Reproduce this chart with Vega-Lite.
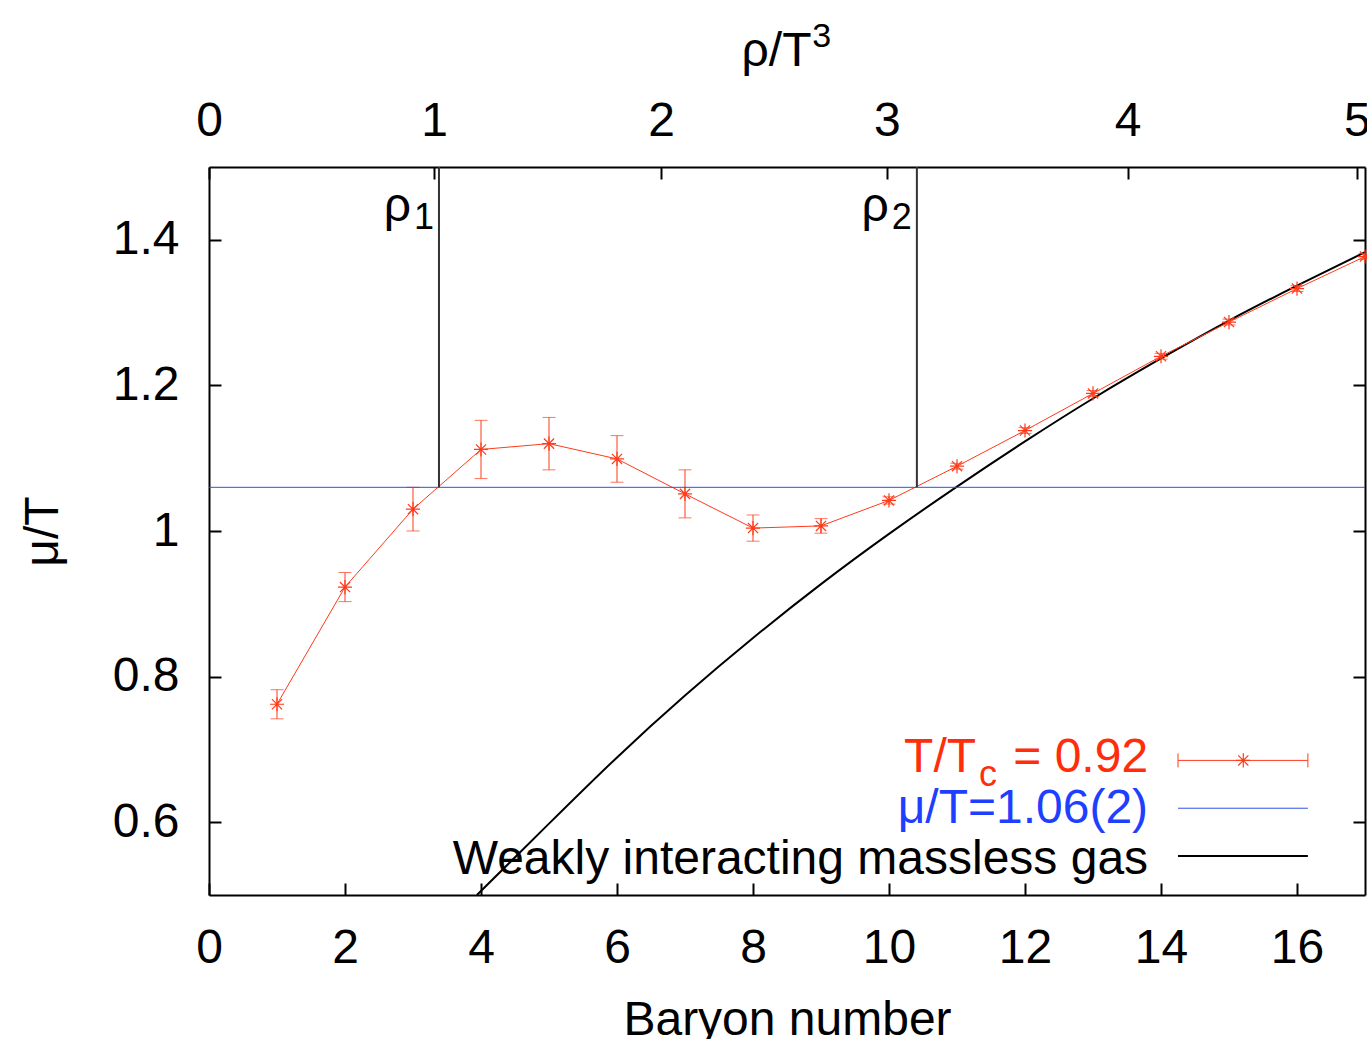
{
  "$schema": "https://vega.github.io/schema/vega-lite/v6.json",
  "width": 1156,
  "height": 728,
  "autosize": {"type": "none"},
  "padding": {"left": 209, "top": 167, "right": 2, "bottom": 144},
  "background": "white",
  "config": {
    "font": "Liberation Sans",
    "view": {"stroke": null},
    "axis": {
      "labelFont": "Liberation Sans",
      "titleFont": "Liberation Sans",
      "labelFontSize": 48,
      "titleFontSize": 48,
      "titleFontWeight": "normal",
      "labelColor": "black",
      "titleColor": "black",
      "domainColor": "black",
      "domainWidth": 2,
      "tickColor": "black",
      "tickWidth": 2,
      "tickSize": -12,
      "grid": false,
      "labelFlush": false,
      "labelOverlap": false,
      "labelBound": false
    }
  },
  "datasets": {
    "lattice": [
      {"N": 1, "mu": 0.762, "err": 0.020},
      {"N": 2, "mu": 0.923, "err": 0.020},
      {"N": 3, "mu": 1.030, "err": 0.030},
      {"N": 4, "mu": 1.112, "err": 0.040},
      {"N": 5, "mu": 1.120, "err": 0.036},
      {"N": 6, "mu": 1.099, "err": 0.032},
      {"N": 7, "mu": 1.051, "err": 0.033},
      {"N": 8, "mu": 1.004, "err": 0.018},
      {"N": 9, "mu": 1.007, "err": 0.010},
      {"N": 10, "mu": 1.042, "err": 0.005},
      {"N": 11, "mu": 1.089, "err": 0.004},
      {"N": 12, "mu": 1.138, "err": 0.004},
      {"N": 13, "mu": 1.189, "err": 0.004},
      {"N": 14, "mu": 1.240, "err": 0.004},
      {"N": 15, "mu": 1.287, "err": 0.004},
      {"N": 16, "mu": 1.333, "err": 0.004},
      {"N": 17, "mu": 1.377, "err": 0.004}
    ],
    "gas": [
      {"N": 3.94, "mu": 0.500},
      {"N": 5, "mu": 0.598},
      {"N": 6, "mu": 0.689},
      {"N": 7, "mu": 0.774},
      {"N": 8, "mu": 0.853},
      {"N": 9, "mu": 0.927},
      {"N": 10, "mu": 0.996},
      {"N": 11, "mu": 1.061},
      {"N": 12, "mu": 1.123},
      {"N": 13, "mu": 1.182},
      {"N": 14, "mu": 1.237},
      {"N": 15, "mu": 1.289},
      {"N": 16, "mu": 1.337},
      {"N": 17, "mu": 1.383}
    ],
    "rho": [
      {"N": 3.382, "sub": "1"},
      {"N": 10.41, "sub": "2"}
    ],
    "one": [{}]
  },
  "layer": [
    {
      "data": {"name": "gas"},
      "mark": {"type": "line", "color": "black", "strokeWidth": 2, "interpolate": "natural"},
      "encoding": {
        "x": {"field": "N", "type": "quantitative", "scale": {"domain": [0, 17], "nice": false, "zero": false},
              "axis": {"orient": "bottom", "values": [0, 2, 4, 6, 8, 10, 12, 14, 16], "title": "Baryon number", "labelPadding": 41, "titlePadding": 24}},
        "y": {"field": "mu", "type": "quantitative", "scale": {"domain": [0.5, 1.5], "nice": false, "zero": false},
              "axis": {"orient": "left", "values": [0.6, 0.8, 1, 1.2, 1.4], "labelExpr": "'' + datum.value", "title": "μ/T", "labelPadding": 42, "titlePadding": 45}}
      }
    },
    {
      "data": {"name": "lattice"},
      "mark": {"type": "line", "color": "#ff3a1a", "strokeWidth": 1},
      "encoding": {
        "x": {"field": "N", "type": "quantitative", "scale": {"domain": [0, 17], "nice": false, "zero": false},
              "axis": {"orient": "top", "values": [0, 3.31, 6.65, 9.97, 13.51, 16.88],
                       "labelExpr": "datum.value < 1 ? '0' : datum.value < 5 ? '1' : datum.value < 8 ? '2' : datum.value < 11 ? '3' : datum.value < 15 ? '4' : '5'",
                       "title": "ρ/T", "titleX": 567, "labelPadding": 34, "titlePadding": 22}},
        "y": {"field": "mu", "type": "quantitative", "scale": {"domain": [0.5, 1.5], "nice": false, "zero": false},
              "axis": {"orient": "right", "values": [0.6, 0.8, 1, 1.2, 1.4], "labels": false, "title": null}}
      }
    },
    {
      "data": {"name": "one"},
      "mark": {"type": "text", "text": "3", "fontSize": 34, "align": "left", "baseline": "alphabetic", "color": "black"},
      "encoding": {
        "x": {"datum": 8.87, "type": "quantitative", "scale": {"domain": [0, 17]}, "axis": null},
        "y": {"datum": 1.665, "type": "quantitative", "scale": {"domain": [0.5, 1.5]}, "axis": null}
      }
    },
    {
      "data": {"name": "lattice"},
      "mark": {"type": "errorbar", "color": "#ff3a1a", "rule": {"strokeWidth": 1}, "ticks": {"size": 13, "thickness": 1, "color": "#ff3a1a"}},
      "encoding": {
        "x": {"field": "N", "type": "quantitative", "scale": {"domain": [0, 17]}, "axis": null},
        "y": {"field": "mu", "type": "quantitative", "scale": {"domain": [0.5, 1.5]}, "axis": null},
        "yError": {"field": "err"}
      }
    },
    {
      "data": {"name": "lattice"},
      "mark": {"type": "point", "shape": "M-1,0L1,0M0,-1L0,1M-0.72,-0.72L0.72,0.72M-0.72,0.72L0.72,-0.72", "size": 200, "filled": false, "stroke": "#ff3a1a", "strokeWidth": 1.2, "opacity": 1},
      "encoding": {
        "x": {"field": "N", "type": "quantitative", "scale": {"domain": [0, 17]}, "axis": null},
        "y": {"field": "mu", "type": "quantitative", "scale": {"domain": [0.5, 1.5]}, "axis": null}
      }
    },
    {
      "data": {"name": "one"},
      "mark": {"type": "rule", "color": "#3050e6", "strokeWidth": 1},
      "encoding": {
        "y": {"datum": 1.06, "type": "quantitative", "scale": {"domain": [0.5, 1.5]}, "axis": null}
      }
    },
    {
      "data": {"name": "rho"},
      "mark": {"type": "rule", "color": "#333333", "strokeWidth": 2},
      "encoding": {
        "x": {"field": "N", "type": "quantitative", "scale": {"domain": [0, 17]}, "axis": null},
        "y": {"datum": 1.06, "type": "quantitative", "scale": {"domain": [0.5, 1.5]}, "axis": null},
        "y2": {"datum": 1.5}
      }
    },
    {
      "data": {"name": "rho"},
      "mark": {"type": "text", "text": "ρ", "fontSize": 48, "align": "right", "baseline": "alphabetic", "dx": -28, "color": "black"},
      "encoding": {
        "x": {"field": "N", "type": "quantitative", "scale": {"domain": [0, 17]}, "axis": null},
        "y": {"datum": 1.426, "type": "quantitative", "scale": {"domain": [0.5, 1.5]}, "axis": null}
      }
    },
    {
      "data": {"name": "rho"},
      "mark": {"type": "text", "fontSize": 36, "align": "right", "baseline": "alphabetic", "dx": -5, "color": "black"},
      "encoding": {
        "x": {"field": "N", "type": "quantitative", "scale": {"domain": [0, 17]}, "axis": null},
        "y": {"datum": 1.415, "type": "quantitative", "scale": {"domain": [0.5, 1.5]}, "axis": null},
        "text": {"field": "sub"}
      }
    },
    {
      "data": {"name": "one"},
      "mark": {"type": "text", "text": "T/T", "fontSize": 48, "align": "right", "baseline": "alphabetic", "dx": -172, "color": "#ff2d0a"},
      "encoding": {
        "x": {"datum": 13.81, "type": "quantitative", "scale": {"domain": [0, 17]}, "axis": null},
        "y": {"datum": 0.6685, "type": "quantitative", "scale": {"domain": [0.5, 1.5]}, "axis": null}
      }
    },
    {
      "data": {"name": "one"},
      "mark": {"type": "text", "text": "c", "fontSize": 36, "align": "right", "baseline": "alphabetic", "dx": -151, "dy": 14, "color": "#ff2d0a"},
      "encoding": {
        "x": {"datum": 13.81, "type": "quantitative", "scale": {"domain": [0, 17]}, "axis": null},
        "y": {"datum": 0.6685, "type": "quantitative", "scale": {"domain": [0.5, 1.5]}, "axis": null}
      }
    },
    {
      "data": {"name": "one"},
      "mark": {"type": "text", "text": "= 0.92", "fontSize": 48, "align": "right", "baseline": "alphabetic", "color": "#ff2d0a"},
      "encoding": {
        "x": {"datum": 13.81, "type": "quantitative", "scale": {"domain": [0, 17]}, "axis": null},
        "y": {"datum": 0.6685, "type": "quantitative", "scale": {"domain": [0.5, 1.5]}, "axis": null}
      }
    },
    {
      "data": {"name": "one"},
      "mark": {"type": "text", "text": "μ/T=1.06(2)", "fontSize": 48, "align": "right", "baseline": "alphabetic", "color": "#1f3fff"},
      "encoding": {
        "x": {"datum": 13.81, "type": "quantitative", "scale": {"domain": [0, 17]}, "axis": null},
        "y": {"datum": 0.5986, "type": "quantitative", "scale": {"domain": [0.5, 1.5]}, "axis": null}
      }
    },
    {
      "data": {"name": "one"},
      "mark": {"type": "text", "text": "Weakly interacting massless gas", "fontSize": 48, "align": "right", "baseline": "alphabetic", "color": "black"},
      "encoding": {
        "x": {"datum": 13.81, "type": "quantitative", "scale": {"domain": [0, 17]}, "axis": null},
        "y": {"datum": 0.5288, "type": "quantitative", "scale": {"domain": [0.5, 1.5]}, "axis": null}
      }
    },
    {
      "data": {"name": "one"},
      "mark": {"type": "rule", "color": "#ff3a1a", "strokeWidth": 1},
      "encoding": {
        "x": {"datum": 14.25, "type": "quantitative", "scale": {"domain": [0, 17]}, "axis": null},
        "x2": {"datum": 16.16},
        "y": {"datum": 0.6849, "type": "quantitative", "scale": {"domain": [0.5, 1.5]}, "axis": null}
      }
    },
    {
      "data": {"name": "one"},
      "mark": {"type": "rule", "color": "#ff3a1a", "strokeWidth": 1},
      "encoding": {
        "x": {"datum": 14.25, "type": "quantitative", "scale": {"domain": [0, 17]}, "axis": null},
        "y": {"datum": 0.6753, "type": "quantitative", "scale": {"domain": [0.5, 1.5]}, "axis": null},
        "y2": {"datum": 0.6945}
      }
    },
    {
      "data": {"name": "one"},
      "mark": {"type": "rule", "color": "#ff3a1a", "strokeWidth": 1},
      "encoding": {
        "x": {"datum": 16.16, "type": "quantitative", "scale": {"domain": [0, 17]}, "axis": null},
        "y": {"datum": 0.6753, "type": "quantitative", "scale": {"domain": [0.5, 1.5]}, "axis": null},
        "y2": {"datum": 0.6945}
      }
    },
    {
      "data": {"name": "one"},
      "mark": {"type": "point", "shape": "M-1,0L1,0M0,-1L0,1M-0.72,-0.72L0.72,0.72M-0.72,0.72L0.72,-0.72", "size": 200, "filled": false, "stroke": "#ff3a1a", "strokeWidth": 1.2, "opacity": 1},
      "encoding": {
        "x": {"datum": 15.21, "type": "quantitative", "scale": {"domain": [0, 17]}, "axis": null},
        "y": {"datum": 0.6849, "type": "quantitative", "scale": {"domain": [0.5, 1.5]}, "axis": null}
      }
    },
    {
      "data": {"name": "one"},
      "mark": {"type": "rule", "color": "#3050e6", "strokeWidth": 1},
      "encoding": {
        "x": {"datum": 14.25, "type": "quantitative", "scale": {"domain": [0, 17]}, "axis": null},
        "x2": {"datum": 16.16},
        "y": {"datum": 0.6192, "type": "quantitative", "scale": {"domain": [0.5, 1.5]}, "axis": null}
      }
    },
    {
      "data": {"name": "one"},
      "mark": {"type": "rule", "color": "black", "strokeWidth": 2},
      "encoding": {
        "x": {"datum": 14.25, "type": "quantitative", "scale": {"domain": [0, 17]}, "axis": null},
        "x2": {"datum": 16.16},
        "y": {"datum": 0.5534, "type": "quantitative", "scale": {"domain": [0.5, 1.5]}, "axis": null}
      }
    }
  ],
  "resolve": {"scale": {"x": "shared", "y": "shared"}, "axis": {"x": "independent", "y": "independent"}}
}
